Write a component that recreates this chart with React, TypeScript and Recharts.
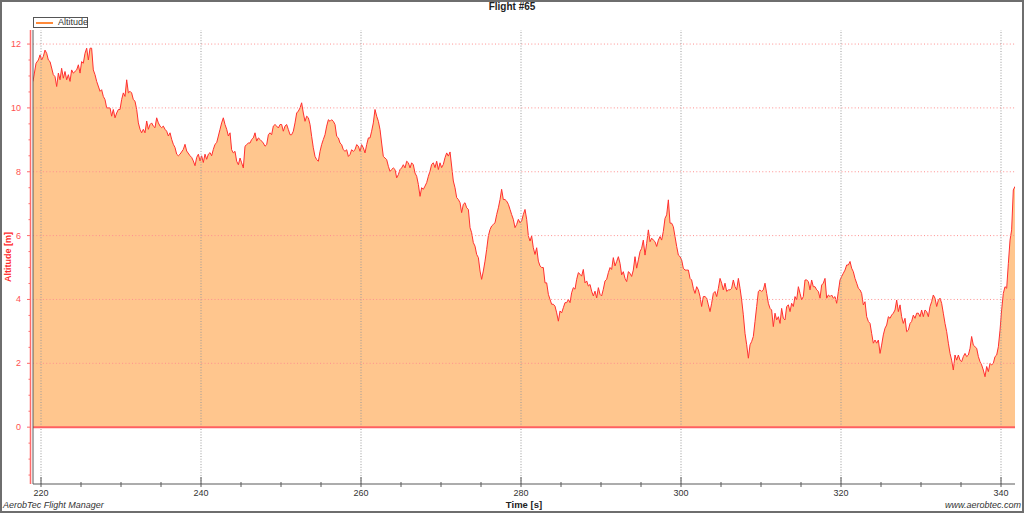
import React from "react";
import { ComposedChart, Area, XAxis, YAxis, ReferenceLine } from "recharts";

// time [s] and altitude [m]
const timeA = [
  219.0, 219.38, 219.67, 219.88, 220.08, 220.29, 220.5, 220.71, 220.92, 221.13,
  221.54, 221.75, 221.96, 222.17, 222.38, 222.58, 222.79, 223.0, 223.21, 223.42,
  223.63, 223.83, 224.04, 224.46, 224.67, 224.88, 225.08, 225.29, 225.5, 225.71,
  225.92, 226.13, 226.33, 226.54, 226.75, 226.96, 227.38, 227.58, 227.79, 228.0,
  228.21, 228.63, 228.83, 229.04, 229.25, 229.46, 229.67, 229.88, 230.08, 230.29,
  230.5, 230.71, 230.92, 231.13, 231.33, 231.54, 231.75, 231.96, 232.17, 232.38,
  232.58, 232.79, 233.0, 233.21, 233.42, 233.63, 233.83, 234.04, 234.25, 234.46,
  234.67, 234.88, 235.08, 235.29, 235.5, 235.71, 235.92, 236.13, 236.33, 236.54,
  236.75, 236.96, 237.17, 237.38, 237.79, 238.0, 238.21, 238.63, 238.83, 239.04,
  239.25, 239.46, 239.67, 239.88, 240.08, 240.29, 240.5, 240.71, 240.92, 241.13,
  241.33, 241.54, 241.75, 241.96, 242.17, 242.38, 242.58, 242.79, 243.0, 243.21,
  243.42,
];
const altitudeA = [
  10.83, 11.4, 11.5, 11.66, 11.5, 11.61, 11.81, 11.71, 11.5, 11.45,
  11.04, 10.98, 10.67, 11.09, 10.88, 11.24, 10.93, 11.14, 10.88, 11.04,
  10.83, 11.19, 11.09, 11.19, 11.35, 11.09, 11.45, 11.4, 11.71, 11.87,
  11.5, 11.87, 11.87, 11.19, 11.04, 10.83, 10.52, 10.57, 10.36, 10.26,
  10.0, 10.0, 9.74, 9.95, 9.69, 9.84, 9.95, 9.95, 10.26, 10.47,
  10.36, 10.88, 10.47, 10.52, 10.47, 10.26, 10.21, 9.95, 9.53, 9.33,
  9.22, 9.33, 9.22, 9.59, 9.33, 9.48, 9.53, 9.43, 9.38, 9.69,
  9.53, 9.43, 9.38, 9.43, 9.33, 9.27, 9.12, 9.22, 9.02, 8.86,
  8.76, 8.55, 8.5, 8.55, 8.7, 8.86, 8.65, 8.5, 8.45, 8.34,
  8.19, 8.45, 8.55, 8.34, 8.5, 8.29, 8.55, 8.39, 8.55, 8.6,
  8.5, 8.7, 8.86, 8.91, 9.12, 9.33, 9.53, 9.69, 9.48, 9.33,
  9.12,
];

const timeB = [
  243.63, 243.83, 244.04, 244.25, 244.46, 244.67, 244.88, 245.08, 245.29, 245.5,
  245.71, 245.92, 246.13, 246.33, 246.54, 246.75, 246.96, 247.17, 247.38, 247.58,
  247.79, 248.0, 248.21, 248.42, 248.63, 248.83, 249.04, 249.25, 249.46, 249.67,
  249.88, 250.08, 250.29, 250.5, 250.71, 250.92, 251.13, 251.33, 251.54, 251.75,
  251.96, 252.17, 252.38, 252.58, 252.79, 253.0, 253.21, 253.42, 253.63, 253.83,
  254.04, 254.25, 254.46, 254.67, 254.88, 255.08, 255.29, 255.5, 255.71, 255.92,
  256.13, 256.33, 256.54, 256.75, 256.96, 257.17, 257.38, 257.58, 257.79, 258.0,
  258.21, 258.42, 258.63, 258.83, 259.04, 259.25, 259.46, 259.67, 259.88, 260.08,
  260.29, 260.5, 260.71, 260.92, 261.13, 261.33, 261.54, 261.75, 261.96, 262.17,
  262.38, 262.58, 262.79, 263.0, 263.21, 263.42, 263.63, 263.83, 264.04, 264.25,
  264.46, 264.67, 264.88, 265.08, 265.29, 265.5, 265.71, 265.92, 266.13, 266.33,
  266.54, 266.75, 266.96, 267.17, 267.38,
];
const altitudeB = [
  9.22, 8.69, 8.59, 8.64, 8.33, 8.22, 8.43, 8.28, 8.12, 8.8,
  8.85, 8.9, 8.9, 9.01, 9.06, 9.22, 8.96, 9.06, 9.01, 8.96,
  8.9, 8.8, 8.85, 9.16, 9.22, 9.16, 9.43, 9.48, 9.43, 9.37,
  9.48, 9.48, 9.27, 9.43, 9.48, 9.32, 9.16, 9.16, 9.27, 9.53,
  9.84, 9.9, 10.0, 10.16, 9.84, 9.58, 9.74, 9.69, 9.48, 9.11,
  8.75, 8.48, 8.38, 8.33, 8.64, 8.85, 9.01, 9.16, 9.43, 9.63,
  9.58, 9.63, 9.58, 9.48, 9.11, 9.06, 8.9, 8.85, 8.69, 8.64,
  8.69, 8.48, 8.54, 8.69, 8.64, 8.69, 8.85, 8.8, 8.64, 8.85,
  8.75, 8.59, 8.85, 9.06, 9.06, 9.27, 9.53, 9.95, 9.74, 9.58,
  9.32, 8.9, 8.48, 8.43, 8.38, 8.17, 8.01, 8.07, 8.12, 8.07,
  7.81, 7.91, 8.07, 8.12, 8.22, 8.12, 8.33, 8.28, 8.12, 8.28,
  8.22, 7.96, 7.86, 7.6, 7.23,
];

const timeC = [
  267.58, 267.79, 268.0, 268.21, 268.42, 268.63, 268.83, 269.04, 269.25, 269.46,
  269.67, 269.88, 270.08, 270.29, 270.5, 270.71, 270.92, 271.13, 271.33, 271.54,
  271.75, 271.96, 272.17, 272.38, 272.58, 272.79, 273.0, 273.21, 273.42, 273.63,
  273.83, 274.04, 274.25, 274.46, 274.67, 274.88, 275.08, 275.29, 275.5, 275.71,
  275.92, 276.13, 276.33, 276.54, 276.75, 276.96, 277.17, 277.38, 277.58, 277.79,
  278.0, 278.21, 278.42, 278.63, 278.83, 279.04, 279.25, 279.46, 279.67, 279.88,
  280.08, 280.29, 280.5, 280.71, 280.92, 281.13, 281.33, 281.54, 281.75, 281.96,
  282.17, 282.38, 282.58, 282.79, 283.0, 283.21, 283.42, 283.63, 283.83, 284.04,
  284.25, 284.46, 284.67, 284.88, 285.08, 285.29, 285.5, 285.71, 285.92, 286.13,
  286.33, 286.54, 286.75, 286.96, 287.17, 287.38, 287.58, 287.79, 288.0, 288.21,
  288.42, 288.63, 288.83, 289.04, 289.25, 289.46, 289.67, 289.88, 290.08, 290.29,
  290.5, 290.71, 290.92, 291.13, 291.33, 291.54, 291.75,
];
const altitudeC = [
  7.5, 7.45, 7.55, 7.66, 7.86, 8.02, 8.23, 8.28, 8.13, 8.33,
  8.07, 8.28, 8.13, 8.23, 8.44, 8.59, 8.49, 8.62, 8.18, 7.71,
  7.5, 7.19, 7.13, 7.03, 6.72, 6.98, 7.03, 6.87, 6.82, 6.25,
  6.09, 5.78, 5.67, 5.41, 5.31, 4.89, 4.63, 4.89, 5.2, 5.57,
  5.99, 6.19, 6.3, 6.35, 6.4, 6.66, 6.87, 7.13, 7.45, 7.13,
  7.13, 7.08, 6.98, 6.82, 6.66, 6.51, 6.25, 6.35, 6.51, 6.4,
  6.46, 6.66, 6.82, 6.51, 5.99, 5.83, 5.99, 5.62, 5.41, 5.62,
  5.2, 5.05, 5.0, 5.0, 4.52, 4.52, 4.16, 4.0, 3.85, 3.85,
  3.79, 3.58, 3.32, 3.64, 3.58, 3.74, 3.9, 3.9, 4.0, 3.9,
  4.21, 4.37, 4.32, 4.63, 4.84, 4.79, 4.73, 4.94, 4.52, 4.58,
  4.42, 4.47, 4.26, 4.11, 4.26, 4.05, 4.37, 4.16, 4.11, 4.32,
  4.58, 4.63, 4.84, 5.0, 4.94, 5.31, 5.05,
];

const timeD = [
  291.96, 292.17, 292.38, 292.58, 292.79, 293.0, 293.21, 293.42, 293.63, 293.83,
  294.04, 294.25, 294.46, 294.67, 294.88, 295.08, 295.29, 295.5, 295.71, 295.92,
  296.13, 296.33, 296.54, 296.75, 296.96, 297.17, 297.38, 297.58, 297.79, 298.0,
  298.21, 298.42, 298.63, 298.83, 299.04, 299.25, 299.46, 299.67, 299.88, 300.08,
  300.29, 300.5, 300.71, 300.92, 301.13, 301.33, 301.54, 301.75, 301.96, 302.17,
  302.38, 302.58, 302.79, 303.0, 303.21, 303.42, 303.63, 303.83, 304.04, 304.25,
  304.46, 304.67, 304.88, 305.08, 305.29, 305.5, 305.71, 305.92, 306.13, 306.33,
  306.54, 306.75, 306.96, 307.17, 307.38, 307.58, 307.79, 308.0, 308.21, 308.42,
  308.63, 308.83, 309.04, 309.25, 309.46, 309.67, 309.88, 310.08, 310.29, 310.5,
  310.71, 310.92, 311.13, 311.33, 311.54, 311.75, 311.96, 312.17, 312.38, 312.58,
  312.79, 313.0, 313.21, 313.42, 313.63, 313.83, 314.04, 314.25, 314.46, 314.67,
  314.88, 315.08, 315.29, 315.5, 315.71, 315.92, 316.13, 316.33, 316.54,
];
const altitudeD = [
  5.19, 5.34, 5.13, 4.77, 4.87, 4.66, 4.56, 4.87, 4.82, 4.72,
  4.92, 5.34, 4.98, 5.24, 5.5, 5.6, 5.86, 5.39, 5.76, 6.18,
  5.81, 5.92, 5.86, 5.81, 5.66, 5.86, 5.97, 5.86, 6.13, 6.54,
  6.65, 7.12, 6.39, 6.39, 6.28, 5.97, 5.66, 5.39, 5.34, 5.24,
  4.98, 4.92, 4.92, 4.92, 4.66, 4.61, 4.35, 4.19, 4.4, 4.3,
  4.09, 3.78, 4.09, 4.09, 4.04, 3.83, 3.62, 3.88, 4.19, 4.25,
  4.09, 4.35, 4.66, 4.51, 4.3, 4.51, 4.25, 4.3, 4.3, 4.35,
  4.61, 4.4, 4.3, 4.66, 4.35, 3.99, 3.52, 2.94, 2.58, 2.16,
  2.58, 2.68, 2.84, 3.31, 3.78, 4.25, 4.3, 4.25, 4.3, 4.51,
  4.19, 3.88, 3.72, 3.67, 3.15, 3.57, 3.36, 3.46, 3.25, 3.72,
  3.41, 3.36, 3.78, 3.83, 3.62, 3.88, 3.78, 4.09, 3.99, 4.4,
  4.19, 3.99, 4.09, 4.61, 4.61, 4.56, 4.3, 4.61, 4.4,
];

const timeE = [
  316.75, 316.96, 317.17, 317.38, 317.58, 317.79, 318.0, 318.21, 318.42, 318.63,
  318.83, 319.04, 319.25, 319.46, 319.67, 319.88, 320.08, 320.29, 320.5, 320.71,
  320.92, 321.13, 321.33, 321.54, 321.75, 321.96, 322.17, 322.38, 322.58, 322.79,
  323.0, 323.21, 323.42, 323.63, 323.83, 324.04, 324.25, 324.46, 324.67, 324.88,
  325.08, 325.29, 325.5, 325.71, 325.92, 326.13, 326.33, 326.54, 326.75, 326.96,
  327.17, 327.38, 327.58, 327.79, 328.0, 328.21, 328.42, 328.63, 328.83, 329.04,
  329.25, 329.46, 329.67, 329.88, 330.08, 330.29, 330.5, 330.71, 330.92, 331.13,
  331.33, 331.54, 331.75, 331.96, 332.17, 332.38, 332.58, 332.79, 333.0, 333.21,
  333.42, 333.63, 333.83, 334.04, 334.25, 334.46, 334.67, 334.88, 335.08, 335.29,
  335.5, 335.71, 335.92, 336.13, 336.33, 336.54, 336.75, 336.96, 337.17, 337.38,
  337.58, 337.79, 338.0, 338.21, 338.42, 338.63, 338.83, 339.04, 339.25, 339.46,
  339.67, 339.88, 340.08, 340.29, 340.5, 340.71, 340.92, 341.13, 341.33, 341.54, 341.75,
];
const altitudeE = [
  4.4, 4.3, 4.25, 4.04, 4.45, 4.51, 4.66, 4.04, 4.14, 4.09,
  4.14, 4.04, 4.09, 3.88, 4.25, 4.61, 4.72, 4.82, 4.92, 5.08,
  5.08, 5.19, 4.98, 4.87, 4.66, 4.51, 4.35, 4.3, 4.19, 3.83,
  3.93, 3.46, 3.31, 3.25, 2.94, 2.63, 2.73, 2.63, 2.73, 2.31,
  2.57, 2.89, 3.1, 3.2, 3.46, 3.41, 3.51, 3.57, 3.67, 3.98,
  3.62, 3.83, 3.46, 3.25, 3.41, 2.99, 3.04, 3.25, 3.31, 3.51,
  3.41, 3.57, 3.57, 3.46, 3.67, 3.46, 3.67, 3.62, 3.46, 3.78,
  3.93, 4.14, 4.04, 3.78, 3.98, 4.04, 3.88, 3.57, 3.25, 2.99,
  2.63, 2.31, 2.1, 1.79, 2.26, 2.1, 2.26, 2.1, 2.05, 2.21,
  2.31, 2.21, 2.26, 2.47, 2.84, 2.57, 2.52, 2.47, 2.21, 2.05,
  1.95, 1.79, 1.58, 1.9, 1.74, 2.0, 1.95, 2.0, 2.21, 2.26,
  2.52, 3.04, 3.67, 4.19, 4.4, 4.35, 5.13, 5.86, 6.18, 7.43, 7.54,
];

const time = [...timeA, ...timeB, ...timeC, ...timeD, ...timeE];
const altitude = [...altitudeA, ...altitudeB, ...altitudeC, ...altitudeD, ...altitudeE];

const xTicks = [
  220, 225, 230, 235, 240, 245, 250, 255, 260, 265, 270, 275, 280,
  285, 290, 295, 300, 305, 310, 315, 320, 325, 330, 335, 340,
];
const xLabels = [220, 240, 260, 280, 300, 320, 340];
const yTicks = [
  -1.5, -1, -0.5, 0, 0.5, 1, 1.5, 2, 2.5, 3, 3.5, 4, 4.5, 5, 5.5, 6,
  6.5, 7, 7.5, 8, 8.5, 9, 9.5, 10, 10.5, 11, 11.5, 12,
];
const yLabels = [0, 2, 4, 6, 8, 10, 12];
const yGrid = [2, 4, 6, 8, 10, 12];

const data = time.map((t, i) => ({ t, alt: altitude[i] }));

const FONT = "'Liberation Sans', Arial, sans-serif";
const FRAME = "#5a5a5a";

function BottomTick(props: any) {
  const { x, y, payload } = props;
  const major = xLabels.includes(payload.value);
  return (
    <g>
      <line x1={x} x2={x} y1={y - (major ? 7 : 2)} y2={y + 3} stroke={FRAME} />
      {major && (
        <text x={x} y={y + 12} textAnchor="middle" fontSize={9} fontFamily={FONT} fill="#333">
          {payload.value}
        </text>
      )}
    </g>
  );
}

function TopTick(props: any) {
  const { x, y, payload } = props;
  const major = xLabels.includes(payload.value);
  return <line x1={x} x2={x} y1={y - 2} y2={y + (major ? 5 : 1)} stroke={FRAME} />;
}

function LeftTick(props: any) {
  const { x, y, payload } = props;
  const major = yLabels.includes(payload.value);
  return (
    <g>
      <line x1={x - (major ? 6 : 4.5)} x2={x - 3} y1={y} y2={y} stroke="#ff6a6a" />
      {major && (
        <text x={x - 12} y={y} dy={3} textAnchor="end" fontSize={9} fontFamily={FONT} fill="#ff5050">
          {payload.value}
        </text>
      )}
    </g>
  );
}

function LeftAxisLabel(props: any) {
  const vb = props.viewBox;
  const ax = vb.x + vb.width - 2.5;
  const cy = vb.y + vb.height / 2;
  return (
    <g>
      <line x1={ax} x2={ax} y1={vb.y} y2={vb.y + vb.height} stroke="#ff6a6a" strokeWidth={1.5} />
      <text
        x={7.5}
        y={cy}
        transform={`rotate(-90 7.5 ${cy})`}
        textAnchor="middle"
        dominantBaseline="central"
        fontSize={9}
        fontWeight="bold"
        fontFamily={FONT}
        fill="#ff2a2a"
      >
        Altitude [m]
      </text>
    </g>
  );
}

function TimeLabel(props: any) {
  const vb = props.viewBox;
  return (
    <text x={vb.x + vb.width / 2} y={vb.y + 24} textAnchor="middle" fontSize={9.5} fontWeight="bold" fontFamily={FONT} fill="#222">
      Time [s]
    </text>
  );
}

export default function App() {
  return (
    <div style={{ position: "absolute", left: 0, top: 0, width: 1024, height: 513, background: "#fff", fontFamily: FONT }}>
      <ComposedChart width={1024} height={513} data={data} margin={{ top: 30, right: 9, bottom: 0, left: 0 }}>
        <XAxis
          xAxisId="bottom"
          dataKey="t"
          type="number"
          domain={[219, 341.75]}
          allowDataOverflow
          ticks={xTicks}
          interval={0}
          height={29}
          tickSize={0}
          tickMargin={0}
          tickLine={false}
          axisLine={{ stroke: FRAME, strokeWidth: 1.2 }}
          tick={<BottomTick />}
          label={{ content: <TimeLabel /> }}
        />
        <XAxis
          xAxisId="top"
          orientation="top"
          dataKey="t"
          type="number"
          domain={[219, 341.75]}
          allowDataOverflow
          ticks={xTicks}
          interval={0}
          height={0}
          tickSize={0}
          tickMargin={0}
          tickLine={false}
          axisLine={{ stroke: FRAME }}
          tick={<TopTick />}
        />
        <YAxis
          yAxisId="left"
          type="number"
          domain={[-1.78, 12.44]}
          allowDataOverflow
          ticks={yTicks}
          interval={0}
          width={33}
          tickSize={0}
          tickMargin={0}
          tickLine={false}
          axisLine={{ stroke: FRAME }}
          tick={<LeftTick />}
          label={{ content: <LeftAxisLabel /> }}
        />
        <YAxis
          yAxisId="right"
          orientation="right"
          type="number"
          domain={[-1.78, 12.44]}
          allowDataOverflow
          width={0}
          tick={false}
          tickLine={false}
          axisLine={{ stroke: "#7a7a7a" }}
        />
        <Area
          xAxisId="bottom"
          yAxisId="left"
          type="linear"
          dataKey="alt"
          name="Altitude"
          baseValue={0}
          stroke="#ff3030"
          strokeWidth={1}
          fill="#ffc68e"
          fillOpacity={1}
          dot={false}
          activeDot={false}
          isAnimationActive={false}
        />
        {yGrid.map((v) => (
          <ReferenceLine
            key={`h${v}`}
            xAxisId="bottom"
            yAxisId="left"
            y={v}
            stroke="#ff8f8f"
            strokeDasharray="1 2.3"
          />
        ))}
        {xLabels.map((v) => (
          <ReferenceLine
            key={`v${v}`}
            xAxisId="bottom"
            yAxisId="left"
            x={v}
            stroke="#999"
            strokeDasharray="1 1.7"
          />
        ))}
        <ReferenceLine xAxisId="bottom" yAxisId="left" y={0} stroke="#ff6060" strokeWidth={2} />
      </ComposedChart>

      <div style={{ position: "absolute", left: 0, top: 1, width: 1024, textAlign: "center", fontSize: 10, fontWeight: "bold", color: "#222" }}>
        Flight #65
      </div>

      <div
        style={{
          position: "absolute",
          left: 33,
          top: 17,
          width: 53,
          height: 9,
          border: "1px solid #555",
          background: "#fff",
          boxSizing: "content-box",
        }}
      >
        <div style={{ position: "absolute", left: 2, top: 3.5, width: 17, height: 2, background: "#ff8a3a" }} />
        <div style={{ position: "absolute", left: 24, top: -2, fontSize: 9, lineHeight: "12px", color: "#333" }}>Altitude</div>
      </div>

      <div style={{ position: "absolute", left: 3, top: 500, fontSize: 9, fontStyle: "italic", color: "#333", whiteSpace: "nowrap" }}>
        AerobTec Flight Manager
      </div>
      <div style={{ position: "absolute", right: 3, top: 500, fontSize: 9, fontStyle: "italic", color: "#333", whiteSpace: "nowrap" }}>
        www.aerobtec.com
      </div>

      <div
        style={{
          position: "absolute",
          left: 0,
          top: 0,
          width: 1024,
          height: 513,
          boxSizing: "border-box",
          border: "2px solid #6e6e6e",
          pointerEvents: "none",
        }}
      />
    </div>
  );
}
